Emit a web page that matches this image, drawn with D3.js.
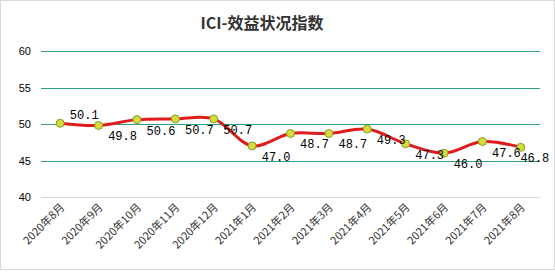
<!DOCTYPE html>
<html><head><meta charset="utf-8">
<script src="https://cdn.jsdelivr.net/npm/d3@7"></script>
<style>body{margin:0;background:#fff}svg{display:block}</style>
</head><body>
<script>
const categories = ["2020年8月","2020年9月","2020年10月","2020年11月","2020年12月","2021年1月","2021年2月","2021年3月","2021年4月","2021年5月","2021年6月","2021年7月","2021年8月"];
const values = [50.1,49.8,50.6,50.7,50.7,47.0,48.7,48.7,49.3,47.3,46.0,47.6,46.8];
const yTicks = [40,45,50,55,60];
const title = "ICI-效益状况指数";

(function(){
const W = 555, H = 272;
const svg = d3.select("body").append("svg").attr("width", W).attr("height", H);
svg.append("rect").attr("x",0.5).attr("y",0.5).attr("width",W-1).attr("height",H-3)
  .attr("fill","#fff").attr("stroke","#d9d9d9");

const pLeft = 41, pRight = 540, pTop = 51, pBottom = 197;
const x = d3.scaleBand().domain(categories).range([pLeft, pRight]);
const y = d3.scaleLinear().domain([40,60]).range([pBottom, pTop]);
const cx = d => x(d) + x.bandwidth()/2;

svg.append("text").attr("x", 262).attr("y", 29).attr("text-anchor","middle")
  .attr("font-family","'Noto Sans CJK SC', sans-serif").attr("font-weight","bold")
  .attr("font-size",16).attr("fill","#333").text(title);

const g = svg.append("g");
g.selectAll("line.grid").data(yTicks).join("line")
  .attr("x1", pLeft).attr("x2", pRight)
  .attr("y1", d => Math.round(y(d))+0.5).attr("y2", d => Math.round(y(d))+0.5)
  .attr("stroke", d => d === 40 ? "#d9d9d9" : "#2c9e86").attr("stroke-width", 1);

g.selectAll("text.yt").data(yTicks).join("text")
  .attr("x", 31).attr("y", d => y(d)+4).attr("text-anchor","end")
  .attr("font-family","'Liberation Sans', Arial, sans-serif").attr("font-size",11)
  .attr("fill","#000").text(d => d);

g.selectAll("text.xt").data(categories).join("text")
  .attr("transform", d => `translate(${cx(d)+5},${pBottom+11}) rotate(-45)`)
  .attr("text-anchor","end")
  .attr("font-family","'Noto Sans CJK SC', sans-serif").attr("font-size",11)
  .attr("fill","#333").text(d => d);

const line = d3.line().x((d,i) => cx(categories[i])).y(d => y(d)).curve(d3.curveCatmullRom.alpha(0.5));
g.append("path").datum(values).attr("d", line).attr("fill","none")
  .attr("stroke","#e01b1b").attr("stroke-width",3).attr("stroke-linecap","round");

g.selectAll("circle").data(values).join("circle")
  .attr("cx", (d,i) => cx(categories[i])).attr("cy", d => y(d)).attr("r", 4)
  .attr("fill","#d2dc3a").attr("stroke","#8f9a2c").attr("stroke-width",1);

g.selectAll("text.lbl").data(values).join("text")
  .attr("x", (d,i) => cx(categories[i]) + (i === values.length-1 ? 14 : 24))
  .attr("y", (d,i) => y(d) + (i === 0 ? -4 : 15))
  .attr("text-anchor","middle")
  .attr("font-family","'Liberation Mono', monospace").attr("font-size",12)
  .attr("fill","#000").text(d => d.toFixed(1));
})();
</script>
</body></html>
